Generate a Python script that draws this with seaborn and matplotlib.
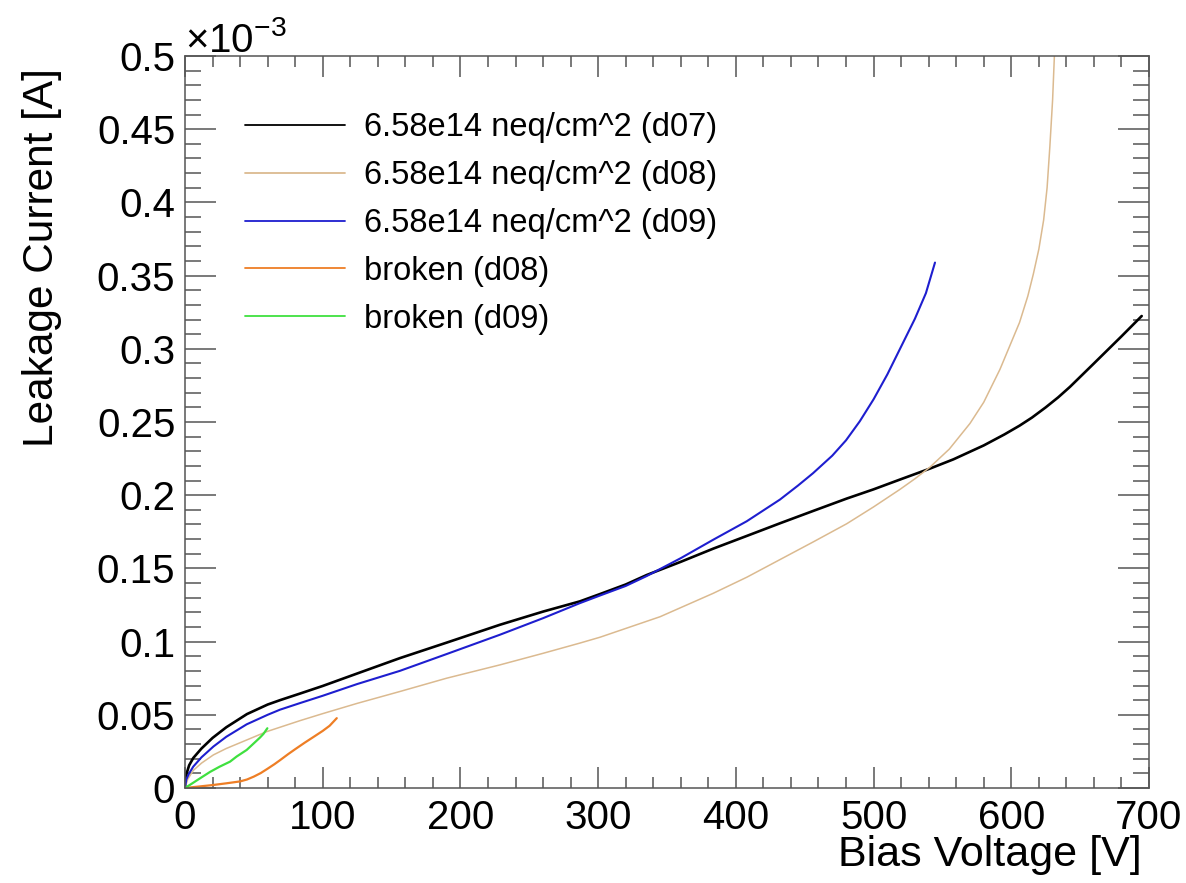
import numpy as np
import pandas as pd
import matplotlib
matplotlib.use("Agg")
import matplotlib.pyplot as plt
from matplotlib.ticker import MultipleLocator, FuncFormatter
import seaborn as sns

# IV scans: bias voltage [V] and leakage current [10^-3 A]
v_d07 = [0, 0.5, 1.2, 3, 6, 12, 20, 30, 45, 60, 69, 83.5, 100, 125, 156, 190,
         228.7, 260, 286.8, 301.4, 320, 335.3, 360, 383.6, 408, 432, 456, 480.5,
         500, 519.2, 541, 558, 580, 595, 606, 615, 625, 634, 642.6, 660, 680,
         694.7]
i_d07 = [0, 0.005, 0.010, 0.0155, 0.0205, 0.027, 0.0342, 0.0415, 0.0505, 0.0570,
         0.0600, 0.0645, 0.0697, 0.0782, 0.0887, 0.0993, 0.1115, 0.1205, 0.1275,
         0.1325, 0.1390, 0.1455, 0.1545, 0.1635, 0.1722, 0.1808, 0.1892, 0.1977,
         0.2040, 0.2107, 0.2182, 0.2245, 0.2340, 0.2415, 0.2475, 0.2530, 0.2600,
         0.2668, 0.2740, 0.2900, 0.3085, 0.3224]

v_d08 = [0, 2, 6, 12, 20.6, 30, 44.8, 59.3, 83.5, 100, 125, 156, 190, 228.7, 260,
         286.8, 301.4, 345, 383.6, 408, 432, 456, 480.5, 500, 519.2, 530, 541, 555,
         570, 580, 591.8, 606, 612, 616, 620, 623.5, 626, 628, 630, 631.3, 632.5]
i_d08 = [0, 0.006, 0.012, 0.017, 0.0226, 0.027, 0.0328, 0.0385, 0.0460, 0.0508,
         0.0578, 0.0659, 0.075, 0.0841, 0.092, 0.0990, 0.1030, 0.117, 0.133,
         0.144, 0.156, 0.168, 0.1805, 0.1920, 0.2040, 0.2112, 0.2192, 0.2315,
         0.2490, 0.2635, 0.2860, 0.318, 0.336, 0.351, 0.368, 0.388, 0.410, 0.438,
         0.470, 0.500, 0.530]

v_d09 = [0, 1, 3, 6, 12, 20.6, 30, 44.8, 60, 69, 83.5, 100, 125, 156, 190, 228.7,
         260, 286.8, 301.4, 320, 335.3, 360, 383.6, 407.9, 432, 445, 456, 470,
         480, 490, 500, 510, 520, 530, 538, 544.6]
i_d09 = [0, 0.006, 0.010, 0.0146, 0.021, 0.0283, 0.035, 0.0435, 0.050, 0.0535,
         0.0580, 0.0630, 0.0710, 0.0800, 0.0915, 0.1047, 0.116, 0.1263, 0.1315,
         0.138, 0.1448, 0.157, 0.1696, 0.1822, 0.197, 0.2065, 0.2150, 0.2270,
         0.2375, 0.2505, 0.2655, 0.2825, 0.3015, 0.3205, 0.3380, 0.3589]

v_brk08 = [0, 10, 20, 30, 40, 45, 50, 55, 60, 65, 69, 75, 80, 87, 93.2, 100,
           105, 110.2]
i_brk08 = [0, 0.001, 0.002, 0.0032, 0.0045, 0.0058, 0.0078, 0.0102, 0.0132,
           0.0163, 0.019, 0.0232, 0.0265, 0.031, 0.0348, 0.039, 0.0425, 0.0477]

v_brk09 = [0, 5, 10.9, 18.2, 25, 32.7, 37.5, 44.8, 49.6, 54.5, 57, 59.8]
i_brk09 = [0, 0.003, 0.0066, 0.011, 0.0145, 0.018, 0.0215, 0.026, 0.0302,
           0.0345, 0.037, 0.0408]

labels = ["6.58e14 neq/cm^2 (d07)", "6.58e14 neq/cm^2 (d08)",
          "6.58e14 neq/cm^2 (d09)", "broken (d08)", "broken (d09)"]
colors = ["#000000", "#DBBA90", "#1E1ECF", "#EE7E25", "#3FE03F"]
widths = [1.9, 1.1, 1.5, 1.6, 1.6]

x_ticks = [0, 100, 200, 300, 400, 500, 600, 700]
y_ticks = [0, 0.05, 0.1, 0.15, 0.2, 0.25, 0.3, 0.35, 0.4, 0.45, 0.5]

sns.set_theme(style="ticks")
plt.rcParams["font.family"] = ["Liberation Sans", "DejaVu Sans"]
plt.rcParams["mathtext.fontset"] = "custom"
plt.rcParams["mathtext.rm"] = "Liberation Sans"
plt.rcParams["mathtext.it"] = "Liberation Sans:italic"
plt.rcParams["text.color"] = "black"
plt.rcParams["axes.labelcolor"] = "black"
plt.rcParams["xtick.labelcolor"] = "black"
plt.rcParams["ytick.labelcolor"] = "black"

fig = plt.figure(figsize=(11.86, 8.83), dpi=100)
ax = fig.add_axes([185 / 1186, 1 - 788 / 883, 964 / 1186, 732 / 883])

series = [(v_d07, i_d07), (v_d08, i_d08), (v_d09, i_d09),
          (v_brk08, i_brk08), (v_brk09, i_brk09)]
for (vv, ii), lab, col, lw in zip(series, labels, colors, widths):
    df = pd.DataFrame({"V": vv, "I": ii})
    sns.lineplot(data=df, x="V", y="I", ax=ax, color=col, linewidth=lw,
                 sort=False, estimator=None, label=lab)

ax.set_xlim(0, 700)
ax.set_ylim(0, 0.5)
ax.set_xticks(x_ticks)
ax.set_yticks(y_ticks)
ax.xaxis.set_minor_locator(MultipleLocator(20))
ax.yaxis.set_minor_locator(MultipleLocator(0.01))
ax.yaxis.set_major_formatter(FuncFormatter(lambda v, p: f"{v:g}"))
ax.xaxis.set_major_formatter(FuncFormatter(lambda v, p: f"{v:g}"))

frame_col = "#555555"
for s in ax.spines.values():
    s.set_color(frame_col)
    s.set_linewidth(1.1)
    s.set_visible(True)

ax.tick_params(axis="x", which="major", direction="in", length=15, width=1.1,
               color=frame_col, top=True, bottom=True, labelsize=29, pad=8)
ax.tick_params(axis="x", which="minor", direction="in", length=8, width=1.1,
               color=frame_col, top=True, bottom=True)
ax.tick_params(axis="y", which="major", direction="in", length=22, width=1.1,
               color=frame_col, left=True, right=True, labelsize=29, pad=7)
ax.tick_params(axis="y", which="minor", direction="in", length=11.5, width=1.1,
               color=frame_col, left=True, right=True)

ax.set_xlabel("Bias Voltage [V]", fontsize=31, loc="right")
ax.set_ylabel("Leakage Current [A]", fontsize=30.5, loc="top")
ax.xaxis.set_label_coords(0.992, -0.064)
ax.yaxis.set_label_coords(-0.128, 0.984)

ax.text(0.0, 1.0055, r"$\times10^{-3}$", transform=ax.transAxes,
        ha="left", va="baseline", fontsize=29)

leg = ax.legend(loc="upper left", bbox_to_anchor=(245 / 1186, 1 - 112 / 883),
                bbox_transform=fig.transFigure, frameon=False, fontsize=23.5,
                handlelength=3.05, handletextpad=0.6, labelspacing=0.52,
                borderpad=0, borderaxespad=0)
for line in leg.get_lines():
    line.set_linewidth(1.3)

fig.savefig("out.png", dpi=100, facecolor="white")
